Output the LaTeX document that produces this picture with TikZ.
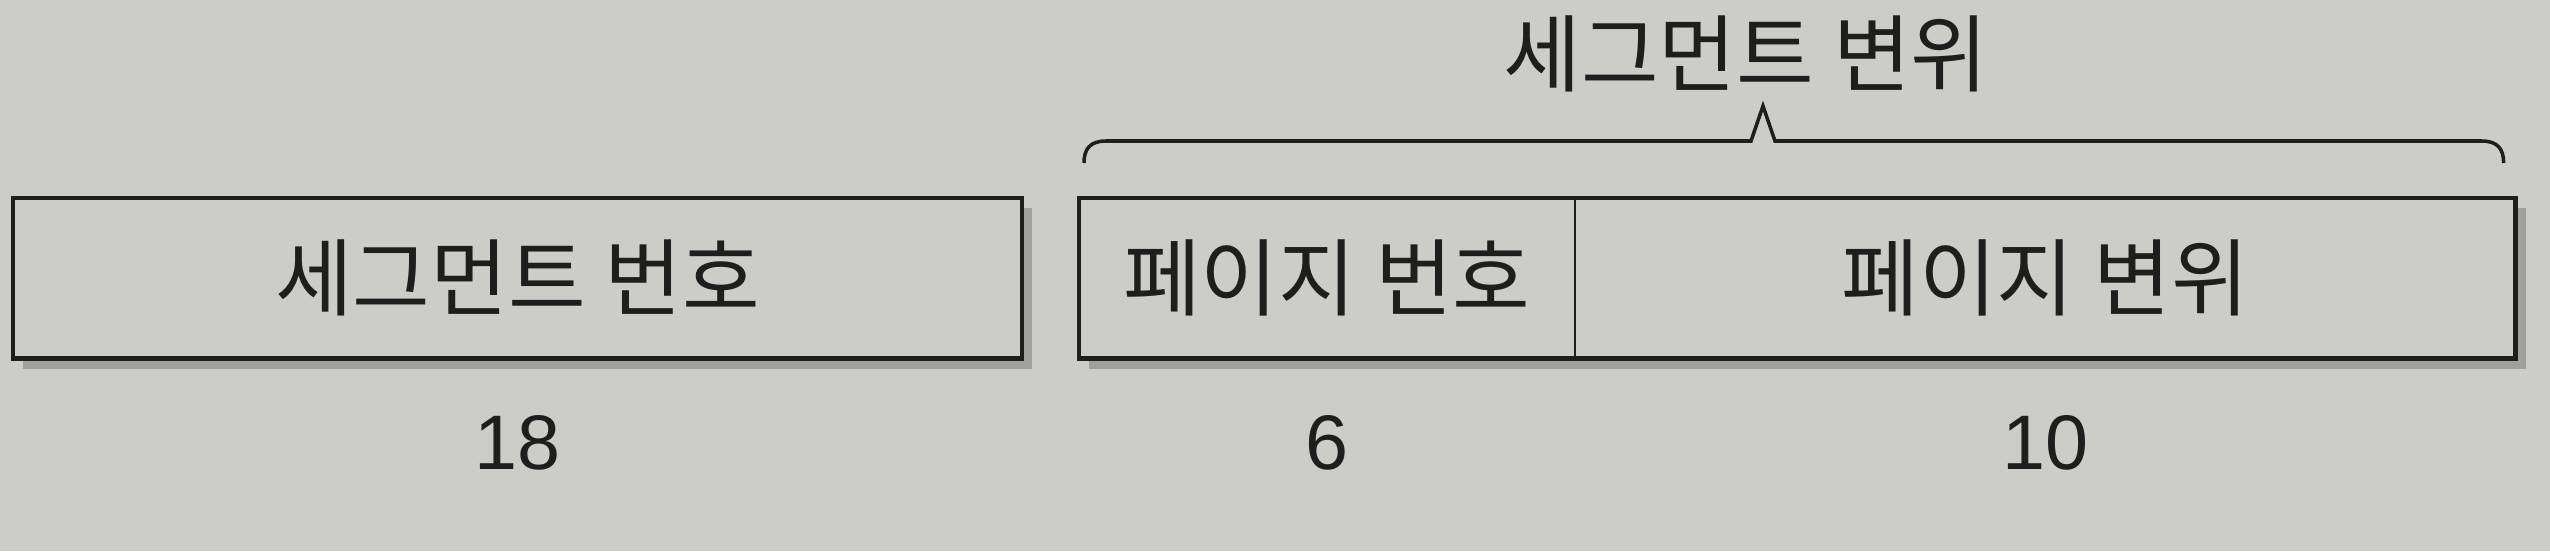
\documentclass[tikz,border=0pt]{standalone}
\usepackage{fontspec}
\setmainfont{Noto Sans CJK KR}
\newfontfamily\digitfont{Liberation Sans}
\usetikzlibrary{positioning,calc}
\definecolor{paper}{RGB}{204,204,201}
\definecolor{ink}{RGB}{30,30,30}
\definecolor{shade}{RGB}{160,160,157}

\begin{document}
\begin{tikzpicture}[x=0.01cm, y=-0.01cm,
  field/.style={minimum height=1.59cm, inner sep=0pt, text=ink, font=\fontsize{24}{24}\selectfont},
  frame/.style={draw=ink, line width=1.4pt},
  split/.style={draw=ink, line width=0.6pt},
  shadow/.style={fill=shade},
  bits/.style={text=ink, font=\digitfont\fontsize{22}{22}\selectfont},
  brace/.style={draw=ink, line width=1pt, line join=miter}]

\useasboundingbox[fill=paper] (0,0) rectangle (2550,551);

% address fields
\node[field, minimum width=10.07cm, anchor=north west] (SegNo)   at (13,198)     {세그먼트 번호};
\node[field, minimum width=4.94cm,  anchor=north west] (PageNo)  at (1079,198)   {페이지 번호};
\node[field, minimum width=9.39cm,  anchor=west]       (PageOff) at (PageNo.east) {페이지 변위};

\fill[shadow] ($(SegNo.north east)+(0,10)$) rectangle ($(SegNo.south east)+(10,10)$);
\fill[shadow] ($(SegNo.south west)+(10,0)$) rectangle ($(SegNo.south east)+(10,10)$);
\fill[shadow] ($(PageOff.north east)+(0,10)$) rectangle ($(PageOff.south east)+(10,10)$);
\fill[shadow] ($(PageNo.south west)+(10,0)$) rectangle ($(PageOff.south east)+(10,10)$);

\draw[frame] (SegNo.north west) rectangle (SegNo.south east);
\draw[frame] (PageNo.north west) rectangle (PageOff.south east);
\draw[split] (PageNo.north east) -- (PageNo.south east);

% bit widths
\node[bits] (SegBits)  at (SegNo.center |- 0,443)   {18};
\node[bits] (PageBits) at (PageNo.center |- 0,443)  {6};
\node[bits] (OffBits)  at (PageOff.center |- 0,443) {10};

% brace over the segment offset
\coordinate (BrL)  at ($(PageNo.north west)+(5,-35)$);
\coordinate (BrR)  at ($(PageOff.north east)+(-12,-35)$);
\coordinate (TipL) at (1751,141);
\coordinate (Tip)  at (1763,106);
\coordinate (TipR) at (1775,141);

\draw[brace] (BrL) .. controls ($(BrL)+(0,-14)$) and ($(BrL)+(6,-22)$) .. ($(BrL)+(22,-22)$)
  -- (TipL) -- (Tip) -- (TipR)
  -- ($(BrR)+(-22,-22)$) .. controls ($(BrR)+(-6,-22)$) and ($(BrR)+(0,-14)$) .. (BrR);

\node[text=ink, font=\fontsize{24}{24}\selectfont] (SegOff) at (1746,54) {세그먼트 변위};

\end{tikzpicture}
\end{document}
